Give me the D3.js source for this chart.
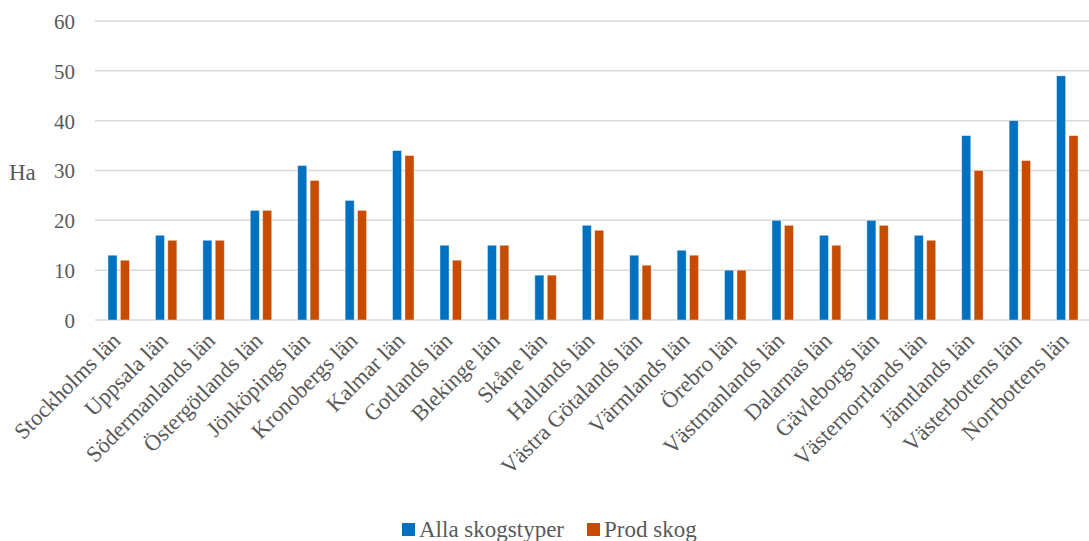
<!DOCTYPE html>
<html>
<head>
<meta charset="utf-8">
<script src="https://cdn.jsdelivr.net/npm/d3@7"></script>
<style>
  html, body { margin: 0; padding: 0; background: #fff; }
  svg { display: block; }
</style>
</head>
<body>
<svg id="chart" width="1089" height="541"></svg>
<script>
// Counties (län) and average holding area in hectares
const categories = [
  "Stockholms län", "Uppsala län", "Södermanlands län", "Östergötlands län",
  "Jönköpings län", "Kronobergs län", "Kalmar län", "Gotlands län",
  "Blekinge län", "Skåne län", "Hallands län", "Västra Götalands län",
  "Värmlands län", "Örebro län", "Västmanlands län", "Dalarnas län",
  "Gävleborgs län", "Västernorrlands län", "Jämtlands län",
  "Västerbottens län", "Norrbottens län"
];
const allaSkogstyper = [13, 17, 16, 22, 31, 24, 34, 15, 15, 9, 19, 13, 14, 10, 20, 17, 20, 17, 37, 40, 49];
const prodSkog       = [12, 16, 16, 22, 28, 22, 33, 12, 15, 9, 18, 11, 13, 10, 19, 15, 19, 16, 30, 32, 37];
const seriesNames = ["Alla skogstyper", "Prod skog"];
const yTicks = [0, 10, 20, 30, 40, 50, 60];
const yLabel = "Ha";

const colors = ["#0070C0", "#C84C00"];
const FONT = "'Liberation Serif', 'DejaVu Serif', serif";
const TEXT_COLOR = "#595959";

const svg = d3.select("#chart");
const plot = { left: 95, right: 1091, top: 21, bottom: 320 };

const x = d3.scaleBand().domain(categories).range([plot.left, plot.right]).paddingInner(0).paddingOuter(0);
const inner = d3.scaleBand().domain([0, 1]).range([0, x.bandwidth()]).paddingInner(0.27).paddingOuter(1.05);
const y = d3.scaleLinear().domain([0, 60]).range([plot.bottom, plot.top]);

// Horizontal gridlines
svg.append("g")
  .selectAll("line")
  .data(yTicks)
  .join("line")
  .attr("x1", plot.left)
  .attr("x2", 1089)
  .attr("y1", d => y(d))
  .attr("y2", d => y(d))
  .attr("stroke", "#d9d9d9")
  .attr("stroke-width", 1.5);

// Y axis labels
const yAxis = d3.axisLeft(y).tickValues(yTicks).tickSize(0).tickPadding(0);
const yg = svg.append("g").attr("transform", `translate(75,0)`).call(yAxis);
yg.select(".domain").remove();
yg.selectAll("text")
  .style("font-family", FONT)
  .style("font-size", "21px")
  .style("fill", TEXT_COLOR)
  .attr("fill", TEXT_COLOR)
  .attr("dy", "0.35em");

svg.append("text")
  .attr("x", 9)
  .attr("y", 172)
  .attr("dy", "0.35em")
  .style("font-family", FONT)
  .style("font-size", "23px")
  .style("fill", TEXT_COLOR)
  .text(yLabel);

// Bars
const seriesData = [allaSkogstyper, prodSkog];
seriesData.forEach((vals, si) => {
  svg.append("g")
    .selectAll("rect")
    .data(vals)
    .join("rect")
    .attr("x", (d, i) => x(categories[i]) + inner(si))
    .attr("width", inner.bandwidth())
    .attr("y", d => y(d))
    .attr("height", d => y(0) - y(d))
    .attr("fill", colors[si])
    .attr("stroke", "#ffffff")
    .attr("stroke-opacity", 0.5)
    .attr("stroke-width", 0.8);
});

// Rotated category labels
const xAxis = d3.axisBottom(x).tickSize(0).tickPadding(0);
const xg = svg.append("g").attr("transform", `translate(0,${plot.bottom})`).call(xAxis);
xg.select(".domain").remove();
xg.selectAll("text")
  .style("font-family", FONT)
  .style("font-size", "22.5px")
  .style("fill", TEXT_COLOR)
  .attr("fill", TEXT_COLOR)
  .attr("text-anchor", "end")
  .attr("dy", null)
  .attr("y", 0)
  .attr("transform", "translate(3,22) rotate(-45)");

// Legend
const legend = svg.append("g");
const legendX = [402, 587];
seriesNames.forEach((name, i) => {
  legend.append("rect")
    .attr("x", legendX[i])
    .attr("y", 523)
    .attr("width", 13)
    .attr("height", 13)
    .attr("fill", colors[i]);
  legend.append("text")
    .attr("x", legendX[i] + 17)
    .attr("y", 537)
    .style("font-family", FONT)
    .style("font-size", "23px")
    .style("fill", TEXT_COLOR)
    .text(name);
});
</script>
</body>
</html>
